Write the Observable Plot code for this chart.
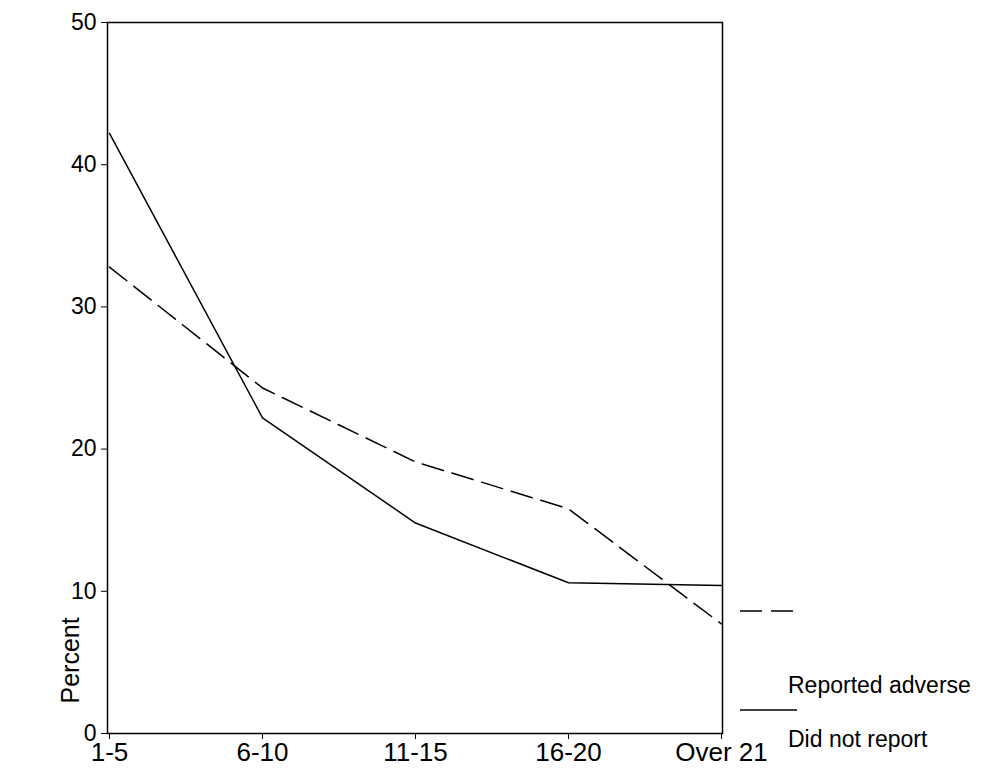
<!DOCTYPE html>
<html><head><meta charset="utf-8">
<script src="https://cdn.jsdelivr.net/npm/d3@7"></script>
<script src="https://cdn.jsdelivr.net/npm/@observablehq/plot@0.6"></script>
<style>
body{margin:0;font-family:"Liberation Sans",Arial,sans-serif}
#wrap{position:relative;width:981px;height:780px}
#legend{position:absolute;left:0;top:0}
</style>
</head><body><div id="wrap"></div>
<script>
const groups = ["1-5", "6-10", "11-15", "16-20", "Over 21"];
const reported = [32.8, 24.3, 19.1, 15.8, 7.7];
const notReported = [42.2, 22.2, 14.8, 10.6, 10.4];
const yTicks = [0, 10, 20, 30, 40, 50];

const rows = [
  ...groups.map((g, i) => ({group: g, value: reported[i], series: "Reported adverse"})),
  ...groups.map((g, i) => ({group: g, value: notReported[i], series: "Did not report"}))
];

const chart = Plot.plot({
  width: 981, height: 780,
  marginLeft: 107, marginRight: 259, marginTop: 22, marginBottom: 47,
  style: {fontFamily: "Liberation Sans, Arial, sans-serif", fontSize: "20px", color: "#000"},
  x: {type: "point", domain: groups, padding: 0, label: null},
  y: {domain: [0, 50], ticks: yTicks, label: null},
  marks: [
    Plot.frame({stroke: "#000", strokeWidth: 1.5}),
    Plot.axisX({tickSize: 6, tickPadding: 3, label: null, fontSize: 26}),
    Plot.axisY({ticks: yTicks, tickSize: 6, tickPadding: 5, label: null, fontSize: 23}),
    Plot.line(rows.filter(d => d.series === "Reported adverse"), {x: "group", y: "value", stroke: "#000", strokeWidth: 1.5, strokeDasharray: "22,9"}),
    Plot.line(rows.filter(d => d.series === "Did not report"), {x: "group", y: "value", stroke: "#000", strokeWidth: 1.5}),
    Plot.text(["Percent"], {frameAnchor: "bottom-left", dx: -29, dy: -30, rotate: -90, textAnchor: "start", fontSize: 25})
  ]
});
document.getElementById("wrap").append(chart);

// legend drawn at right, outside the frame
const leg = d3.select("#wrap").append("svg").attr("id", "legend").attr("width", 981).attr("height", 780)
  .style("font-family", "Liberation Sans, Arial, sans-serif");
leg.append("line").attr("x1", 740).attr("x2", 797).attr("y1", 611).attr("y2", 611).attr("stroke", "#000").attr("stroke-width", 1.5).attr("stroke-dasharray", "22,9");
leg.append("text").attr("x", 788).attr("y", 693).attr("font-size", 23).text("Reported adverse");
leg.append("line").attr("x1", 740).attr("x2", 797).attr("y1", 710).attr("y2", 710).attr("stroke", "#000").attr("stroke-width", 1.5);
leg.append("text").attr("x", 788).attr("y", 747).attr("font-size", 23).text("Did not report");
</script></body></html>
